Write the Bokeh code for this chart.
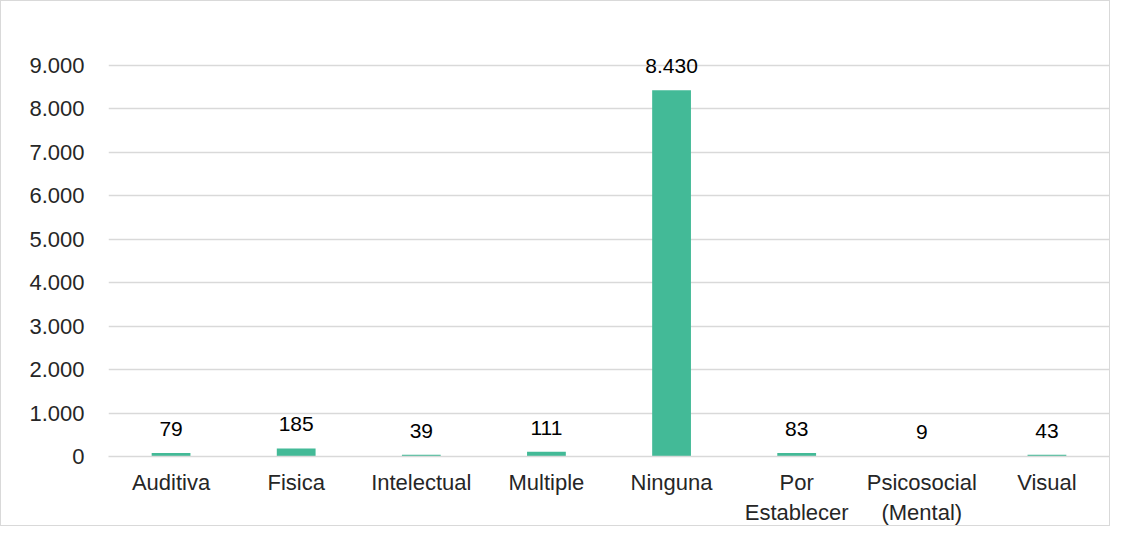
from bokeh.plotting import figure
from bokeh.models import ColumnDataSource, CustomJSTickFormatter, Range1d, FactorRange
from bokeh.core.properties import value
from bokeh.embed import file_html
from bokeh.resources import INLINE

categories = ["Auditiva", "Fisica", "Intelectual", "Multiple", "Ninguna",
              "Por\nEstablecer", "Psicosocial\n(Mental)", "Visual"]
values = [79, 185, 39, 111, 8430, 83, 9, 43]
labels = ["79", "185", "39", "111", "8.430", "83", "9", "43"]
y_ticks = [0, 1000, 2000, 3000, 4000, 5000, 6000, 7000, 8000, 9000]

src = ColumnDataSource(dict(cat=categories, val=values, lab=labels))

p = figure(x_range=FactorRange(*categories), y_range=Range1d(0, 9459),
           width=1110, height=526, output_backend="svg", toolbar_location=None,
           min_border_left=107, min_border_right=2, min_border_top=44, min_border_bottom=68)
p.styles = {"border": "1px solid #d9d9d9"}
p.outline_line_color = None
p.x_range.range_padding = 0

p.vbar(x="cat", top="val", width=0.31, source=src, color="#43BA97", line_color=None)
p.text(x="cat", y="val", text="lab", source=src, text_align="center",
       text_baseline="middle", y_offset=-24, text_font_size="21px",
       text_color="#000000", text_font=value("Liberation Sans"))

p.yaxis.ticker = y_ticks
p.yaxis.formatter = CustomJSTickFormatter(code="""
return tick.toFixed(0).replace(/\\B(?=(\\d{3})+(?!\\d))/g, '.');
""")
for ax in (p.xaxis[0], p.yaxis[0]):
    ax.major_tick_line_color = None
    ax.minor_tick_line_color = None
    ax.major_label_text_font = "Liberation Sans"
    ax.major_label_text_font_size = "22px"
    ax.major_label_text_color = "#262626"
p.yaxis.axis_line_color = None
p.yaxis.major_label_standoff = 18
p.xaxis.axis_line_color = "#d9d9d9"
p.xaxis.axis_line_width = 1.5
p.xaxis.major_label_standoff = 7
p.xgrid.grid_line_color = None
p.ygrid.grid_line_color = "#d9d9d9"
p.ygrid.grid_line_width = 1.5

open("out.html", "w").write(file_html(p, INLINE))
